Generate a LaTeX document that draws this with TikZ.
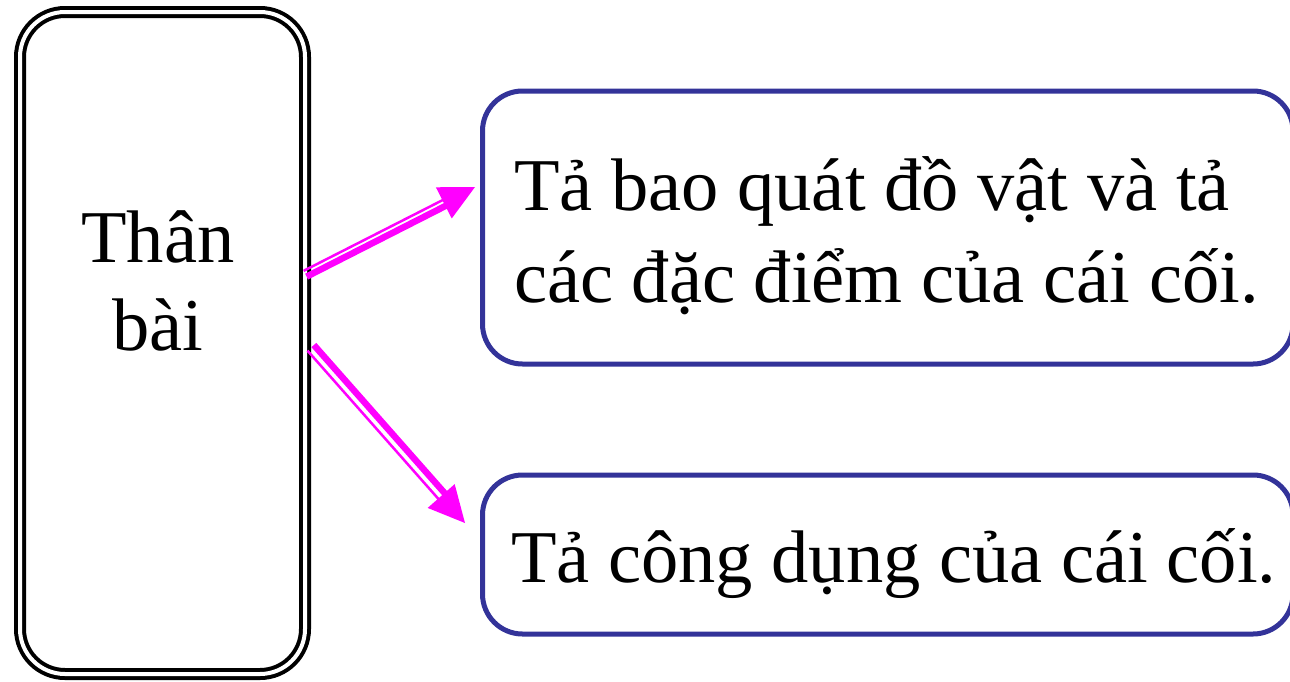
\documentclass[tikz,border=0pt]{standalone}
\usepackage{fontspec}
\setmainfont{Liberation Serif}
\usetikzlibrary{calc}
\definecolor{boxblue}{RGB}{51,51,153}
\definecolor{mag}{RGB}{255,0,255}
\begin{document}
\begin{tikzpicture}[x=1pt,y=-1pt,
  leftbox/.style={draw=black, double=white, line width=4pt, double distance=4pt,
    rounded corners=45pt, minimum width=285pt, minimum height=662pt, inner sep=0pt},
  rightbox/.style={draw=boxblue, line width=5pt, rounded corners=40pt, inner sep=0pt},
  bigtext/.style={font=\fontsize{74.5}{92}\selectfont, inner sep=0pt, outer sep=0pt},
  shaftthick/.style={draw=mag, line width=6.5pt},
  shaftthin/.style={draw=mag, line width=2.5pt},
  headfill/.style={fill=mag}
]
\useasboundingbox (0,0) rectangle (1290,681);
% boxes
\node[leftbox] (L) at (162.5,343) {};
\node[rightbox, minimum width=810.5pt, minimum height=273pt] (T) at (887.75,227.5) {};
\node[rightbox, minimum width=810.5pt, minimum height=159pt] (B) at (887.75,554.5) {};
% texts (base anchor of a multi-line node = baseline of its last line)
\node[bigtext, anchor=base, align=center, font=\fontsize{74.5}{88}\selectfont] (tL) at (158,350) {Thân\\bài};
\node[bigtext, anchor=base west, align=left] (tT) at (514,302) {Tả bao quát đồ vật và tả\\các đặc điểm của cái cối.};
\node[bigtext, anchor=base west] (tB) at (511,582) {Tả công dụng của cái cối.};
% arrow 1
\coordinate (a1s) at (305,273.5);
\coordinate (a1t) at (475,187);
\coordinate (a1e) at ($(a1t)!26pt!(a1s)$);
\coordinate (a1b) at ($(a1t)!35pt!(a1s)$);
\draw[shaftthick] ($(a1s)!3.5pt!-90:(a1t)$) -- ($(a1e)!3.5pt!-90:(a1t)$);
\draw[shaftthin] ($(a1s)!3pt!90:(a1t)$) -- ($(a1e)!3pt!90:(a1t)$);
\fill[headfill] (a1t) -- ($(a1b)!17.5pt!90:(a1t)$) -- ($(a1b)!17.5pt!-90:(a1t)$) -- cycle;
% arrow 2
\coordinate (a2s) at (310.5,348);
\coordinate (a2t) at (465,523);
\coordinate (a2e) at ($(a2t)!27pt!(a2s)$);
\coordinate (a2b) at ($(a2t)!36pt!(a2s)$);
\draw[shaftthick] ($(a2s)!4.5pt!90:(a2t)$) -- ($(a2e)!4.5pt!90:(a2t)$);
\draw[shaftthin] ($(a2s)!4pt!-90:(a2t)$) -- ($(a2e)!4pt!-90:(a2t)$);
\fill[headfill] (a2t) -- ($(a2b)!18pt!90:(a2t)$) -- ($(a2b)!18pt!-90:(a2t)$) -- cycle;
\end{tikzpicture}
\end{document}
